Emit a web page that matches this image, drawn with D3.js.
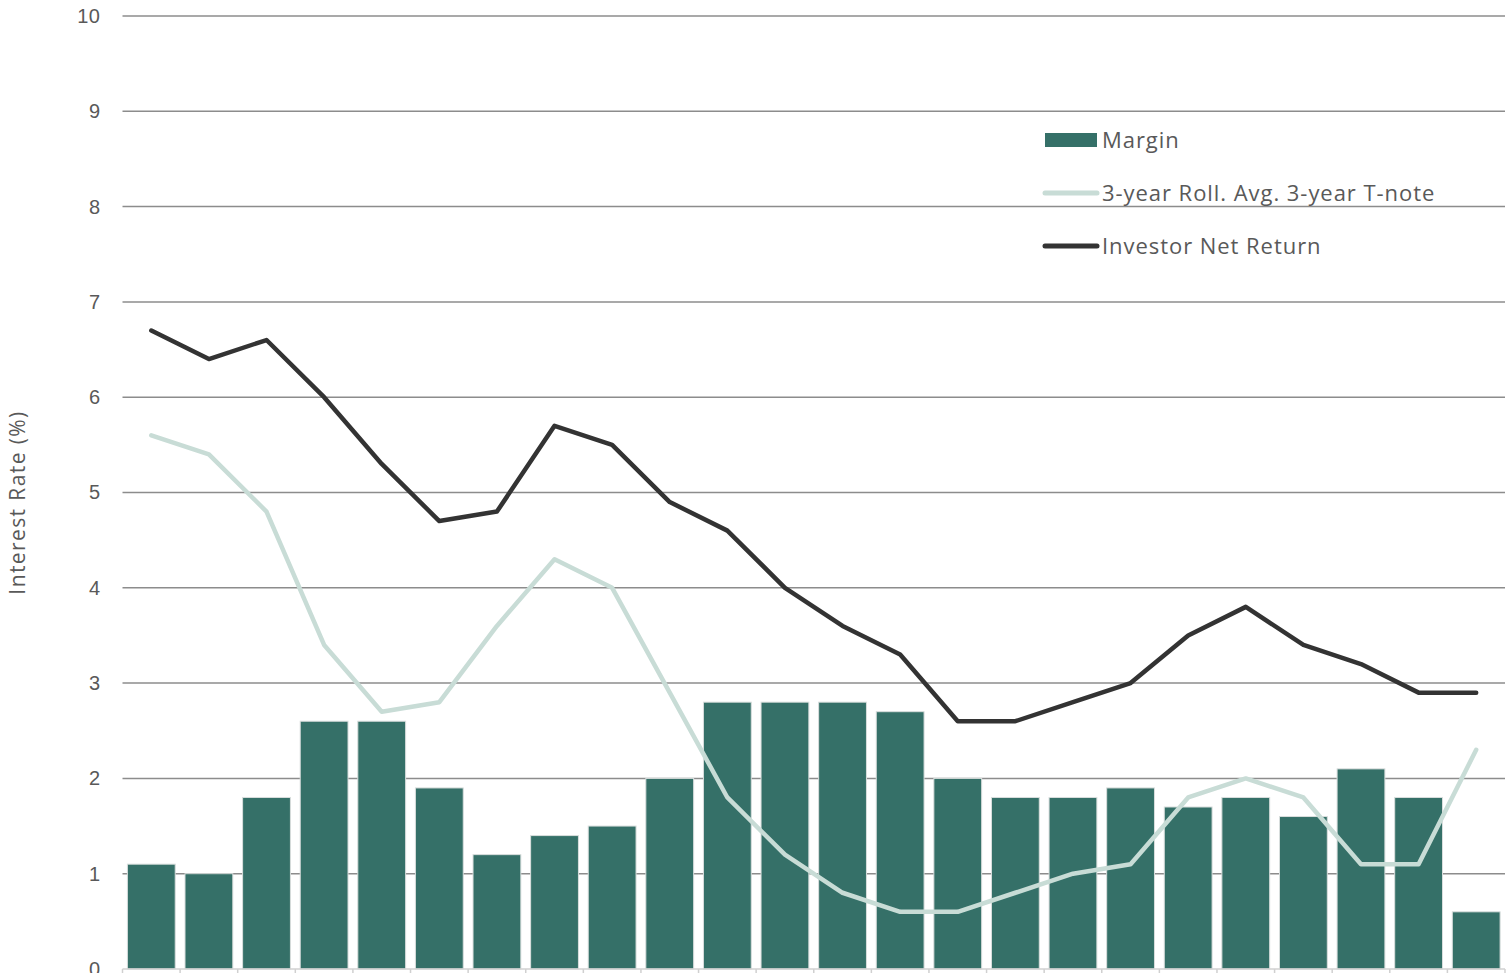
<!DOCTYPE html>
<html>
<head>
<meta charset="utf-8">
<script src="https://cdn.jsdelivr.net/npm/d3@7"></script>
<style>
  html, body { margin: 0; padding: 0; background: #fff; }
  svg { display: block; font-family: "Open Sans", "Noto Sans", sans-serif; }
</style>
</head>
<body>
<svg id="chart" width="1506" height="973"></svg>
<script>
// Yearly periods (unlabelled on the axis)
const periods = d3.range(1, 25).map(i => "P" + i);
const margin = [1.1, 1.0, 1.8, 2.6, 2.6, 1.9, 1.2, 1.4, 1.5, 2.0, 2.8, 2.8, 2.8, 2.7, 2.0, 1.8, 1.8, 1.9, 1.7, 1.8, 1.6, 2.1, 1.8, 0.6];
const tnote = [5.6, 5.4, 4.8, 3.4, 2.7, 2.8, 3.6, 4.3, 4.0, 2.9, 1.8, 1.2, 0.8, 0.6, 0.6, 0.8, 1.0, 1.1, 1.8, 2.0, 1.8, 1.1, 1.1, 2.3];
const netReturn = [6.7, 6.4, 6.6, 6.0, 5.3, 4.7, 4.8, 5.7, 5.5, 4.9, 4.6, 4.0, 3.6, 3.3, 2.6, 2.6, 2.8, 3.0, 3.5, 3.8, 3.4, 3.2, 2.9, 2.9];
const yTicks = [0, 1, 2, 3, 4, 5, 6, 7, 8, 9, 10];

const colors = { margin: "#357068", tnote: "#c8dcd6", net: "#333333", grid: "#8c8c8c", text: "#595959" };

const svg = d3.select("#chart");
const plotLeft = 122.5, plotRight = 1505, plotTop = 16, plotBottom = 969;

const x = d3.scaleBand().domain(periods).range([plotLeft, plotRight]).paddingInner(0.17).paddingOuter(0.085);
const xStep = d3.scaleBand().domain(periods).range([plotLeft, plotRight]);
const y = d3.scaleLinear().domain([0, 10]).range([plotBottom, plotTop]);

// Horizontal gridlines
svg.append("g")
  .selectAll("line")
  .data(yTicks.filter(d => d > 0))
  .join("line")
  .attr("x1", plotLeft).attr("x2", plotRight)
  .attr("y1", d => y(d)).attr("y2", d => y(d))
  .attr("stroke", colors.grid).attr("stroke-width", 1.5);

// Y axis labels
const yAxis = svg.append("g")
  .attr("transform", `translate(${plotLeft},0)`)
  .call(d3.axisLeft(y).tickValues(yTicks).tickSize(0).tickPadding(22).tickFormat(d3.format("d")));
yAxis.select(".domain").remove();
yAxis.selectAll("text").attr("fill", colors.text).style("font-size", "20px").style("letter-spacing", "0.5px");

// Margin bars
svg.append("g")
  .selectAll("rect")
  .data(margin)
  .join("rect")
  .attr("x", (d, i) => x(periods[i]))
  .attr("width", x.bandwidth())
  .attr("y", d => y(d))
  .attr("height", d => y(0) - y(d))
  .attr("fill", colors.margin)
  .attr("stroke", "#d9dedd")
  .attr("stroke-width", 1);

// Bottom axis with ticks at band boundaries
svg.append("line")
  .attr("x1", plotLeft).attr("x2", plotRight)
  .attr("y1", plotBottom).attr("y2", plotBottom)
  .attr("stroke", "#d0d0d0").attr("stroke-width", 1.5);
svg.append("g")
  .selectAll("line")
  .data(periods.concat(["end"]))
  .join("line")
  .attr("x1", (d, i) => plotLeft + i * xStep.step())
  .attr("x2", (d, i) => plotLeft + i * xStep.step())
  .attr("y1", plotBottom).attr("y2", plotBottom + 6)
  .attr("stroke", "#d0d0d0").attr("stroke-width", 1.5);

const cx = i => x(periods[i]) + x.bandwidth() / 2;
const line = d3.line().x((d, i) => cx(i)).y(d => y(d));

svg.append("path")
  .datum(tnote)
  .attr("d", line)
  .attr("fill", "none")
  .attr("stroke", colors.tnote)
  .attr("stroke-width", 4.5)
  .attr("stroke-linejoin", "round")
  .attr("stroke-linecap", "round");

svg.append("path")
  .datum(netReturn)
  .attr("d", line)
  .attr("fill", "none")
  .attr("stroke", colors.net)
  .attr("stroke-width", 4.5)
  .attr("stroke-linejoin", "round")
  .attr("stroke-linecap", "round");

// Y axis title
svg.append("text")
  .attr("transform", `translate(25,${(plotTop + plotBottom) / 2 + 10}) rotate(-90)`)
  .attr("text-anchor", "middle")
  .attr("fill", colors.text)
  .style("font-size", "21px")
  .style("letter-spacing", "1.4px")
  .text("Interest Rate (%)");

// Legend
const legend = svg.append("g");
const legendItems = [
  { label: "Margin", type: "rect", color: colors.margin, y: 140 },
  { label: "3-year Roll. Avg. 3-year T-note", type: "line", color: colors.tnote, y: 193 },
  { label: "Investor Net Return", type: "line", color: colors.net, y: 246 }
];
legendItems.forEach(it => {
  if (it.type === "rect") {
    legend.append("rect").attr("x", 1045).attr("y", it.y - 7).attr("width", 52).attr("height", 14).attr("fill", it.color);
  } else {
    legend.append("line").attr("x1", 1045).attr("x2", 1097).attr("y1", it.y).attr("y2", it.y)
      .attr("stroke", it.color).attr("stroke-width", 5).attr("stroke-linecap", "round");
  }
  legend.append("text").attr("x", 1102).attr("y", it.y).attr("dy", "0.35em")
    .attr("fill", colors.text).style("font-size", "22px").style("letter-spacing", "0.95px").text(it.label);
});
</script>
</body>
</html>
